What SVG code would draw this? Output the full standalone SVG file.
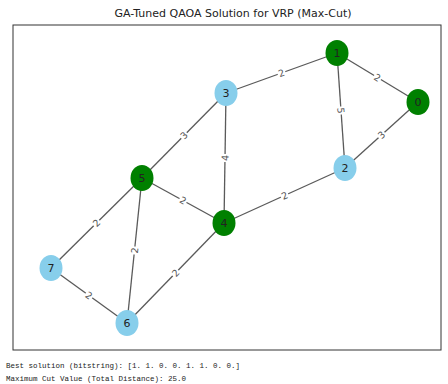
<svg xmlns="http://www.w3.org/2000/svg" width="448" height="384" viewBox="0 0 448 384">
<style>
.e{stroke:#5a5a5a;stroke-width:1.3;fill:none}
.lb{fill:#fff}
.lt{font-family:"DejaVu Sans",sans-serif;font-size:9.5px;fill:#555;text-anchor:middle;dominant-baseline:central}
.g{fill:#008000}
.b{fill:#87ceeb}
.nt{font-family:"DejaVu Sans",sans-serif;font-size:11px;fill:#222;text-anchor:middle;dominant-baseline:central}
.title{font-family:"DejaVu Sans",sans-serif;font-size:11px;fill:#222;text-anchor:middle}
.out{font-family:"Liberation Mono",monospace;font-size:7.5px;fill:#222}
</style>
<rect width="448" height="384" fill="#fff"/>
<text class="title" x="233" y="17">GA-Tuned QAOA Solution for VRP (Max-Cut)</text>
<rect x="13" y="25" width="428" height="325" fill="none" stroke="#333" stroke-width="1"/>
<g id="edges">
<line class="e" x1="337" y1="53" x2="226" y2="93"/>
<line class="e" x1="337" y1="53" x2="418" y2="102"/>
<line class="e" x1="337" y1="53" x2="345" y2="168"/>
<line class="e" x1="418" y1="102" x2="345" y2="168"/>
<line class="e" x1="226" y1="93" x2="142" y2="178"/>
<line class="e" x1="226" y1="93" x2="224" y2="223"/>
<line class="e" x1="142" y1="178" x2="224" y2="223"/>
<line class="e" x1="345" y1="168" x2="224" y2="223"/>
<line class="e" x1="142" y1="178" x2="51" y2="268"/>
<line class="e" x1="142" y1="178" x2="127" y2="323"/>
<line class="e" x1="224" y1="223" x2="127" y2="323"/>
<line class="e" x1="51" y1="268" x2="127" y2="323"/>
<g transform="translate(281.5,73) rotate(-19.8)"><rect class="lb" x="-4" y="-5" width="8" height="10"/><text class="lt">2</text></g>
<g transform="translate(377.5,77.5) rotate(31.2)"><rect class="lb" x="-4" y="-5" width="8" height="10"/><text class="lt">2</text></g>
<g transform="translate(341,110.5) rotate(86)"><rect class="lb" x="-4" y="-5" width="8" height="10"/><text class="lt">5</text></g>
<g transform="translate(381.5,135) rotate(-42)"><rect class="lb" x="-4" y="-5" width="8" height="10"/><text class="lt">3</text></g>
<g transform="translate(184,135.5) rotate(-45)"><rect class="lb" x="-4" y="-5" width="8" height="10"/><text class="lt">3</text></g>
<g transform="translate(225,158) rotate(-89)"><rect class="lb" x="-4" y="-5" width="8" height="10"/><text class="lt">4</text></g>
<g transform="translate(183,200.5) rotate(28.8)"><rect class="lb" x="-4" y="-5" width="8" height="10"/><text class="lt">2</text></g>
<g transform="translate(284.5,195.5) rotate(-24.4)"><rect class="lb" x="-4" y="-5" width="8" height="10"/><text class="lt">2</text></g>
<g transform="translate(96.5,223) rotate(-44.7)"><rect class="lb" x="-4" y="-5" width="8" height="10"/><text class="lt">2</text></g>
<g transform="translate(134.5,250.5) rotate(-84)"><rect class="lb" x="-4" y="-5" width="8" height="10"/><text class="lt">2</text></g>
<g transform="translate(175.5,273) rotate(-45.9)"><rect class="lb" x="-4" y="-5" width="8" height="10"/><text class="lt">2</text></g>
<g transform="translate(89,295.5) rotate(35.9)"><rect class="lb" x="-4" y="-5" width="8" height="10"/><text class="lt">2</text></g>
</g>
<g id="node0"><ellipse class="g" cx="418" cy="102" rx="11.5" ry="13"/><text class="nt" x="418" y="102">0</text></g>
<g id="node1"><ellipse class="g" cx="337" cy="53" rx="11.5" ry="13"/><text class="nt" x="337" y="53">1</text></g>
<g id="node2"><ellipse class="b" cx="345" cy="168" rx="11.5" ry="13"/><text class="nt" x="345" y="168">2</text></g>
<g id="node3"><ellipse class="b" cx="226" cy="93" rx="11.5" ry="13"/><text class="nt" x="226" y="93">3</text></g>
<g id="node4"><ellipse class="g" cx="224" cy="223" rx="11.5" ry="13"/><text class="nt" x="224" y="223">4</text></g>
<g id="node5"><ellipse class="g" cx="142" cy="178" rx="11.5" ry="13"/><text class="nt" x="142" y="178">5</text></g>
<g id="node6"><ellipse class="b" cx="127" cy="323" rx="11.5" ry="13"/><text class="nt" x="127" y="323">6</text></g>
<g id="node7"><ellipse class="b" cx="51" cy="268" rx="11.5" ry="13"/><text class="nt" x="51" y="268">7</text></g>
<text class="out" x="6" y="368">Best solution (bitstring): [1. 1. 0. 0. 1. 1. 0. 0.]</text>
<text class="out" x="6" y="381">Maximum Cut Value (Total Distance): 25.0</text>
</svg>
